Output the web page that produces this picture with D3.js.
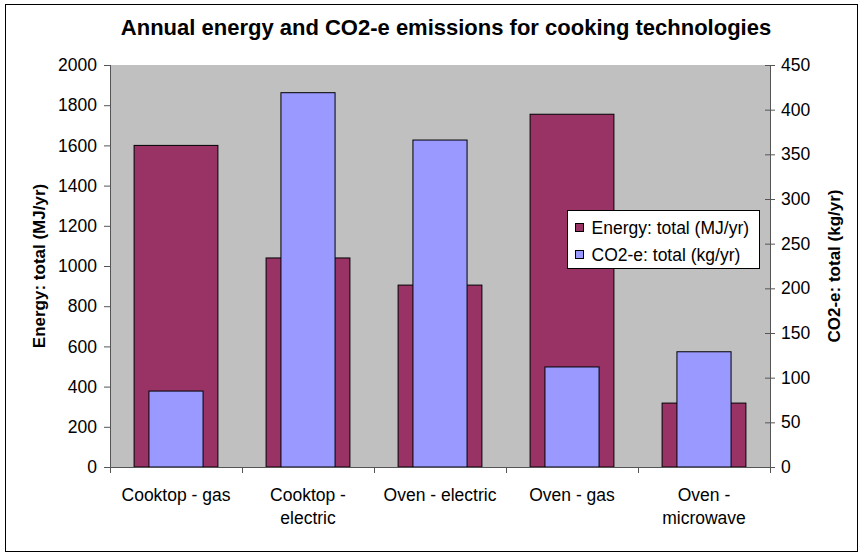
<!DOCTYPE html>
<html>
<head>
<meta charset="utf-8">
<script src="https://cdn.jsdelivr.net/npm/d3@7"></script>
<style>
  body { margin: 0; background: #fff; }
  svg { font-family: "Liberation Sans", Arial, sans-serif; }
</style>
</head>
<body>
<svg width="864" height="557"></svg>
<script>
const categories = ["Cooktop - gas", "Cooktop - electric", "Oven - electric", "Oven - gas", "Oven - microwave"];
const categoryLines = [["Cooktop - gas"], ["Cooktop -", "electric"], ["Oven - electric"], ["Oven - gas"], ["Oven -", "microwave"]];
const energy = [1600, 1040, 905, 1755, 318];
const co2 = [85, 419, 366, 112, 129];
const energyTicks = [0, 200, 400, 600, 800, 1000, 1200, 1400, 1600, 1800, 2000];
const co2Ticks = [0, 50, 100, 150, 200, 250, 300, 350, 400, 450];

const margin = { top: 65, right: 94, bottom: 90, left: 110 };
const width = 864 - margin.left - margin.right;
const plotH = 402;
const fontSize = "17.5px";

const svg = d3.select("svg");

// outer chart border
svg.append("rect")
    .attr("x", 5.5).attr("y", 4.5)
    .attr("width", 852).attr("height", 547)
    .attr("fill", "#fff")
    .attr("stroke", "#000")
    .attr("stroke-width", 1);

const g = svg.append("g")
    .attr("transform", "translate(" + margin.left + "," + margin.top + ")");

const xScale = d3.scaleBand().domain(categories).range([0, width]);
const yScale = d3.scaleLinear().domain([0, 2000]).range([plotH, 0]);
const yScale2 = d3.scaleLinear().domain([0, 450]).range([plotH, 0]);

g.append("rect")
    .attr("width", width).attr("height", plotH)
    .attr("fill", "#C0C0C0");

const bw = xScale.bandwidth();
const energyW = bw * 0.635;
const co2W = bw * 0.41;

g.selectAll(".energy")
    .data(energy)
    .enter().append("rect")
    .attr("class", "energy")
    .attr("x", (d, i) => xScale(categories[i]) + (bw - energyW) / 2)
    .attr("y", d => yScale(d))
    .attr("width", energyW)
    .attr("height", d => plotH - yScale(d))
    .attr("fill", "#993366")
    .attr("stroke", "#000")
    .attr("stroke-width", 1);

g.selectAll(".co2")
    .data(co2)
    .enter().append("rect")
    .attr("class", "co2")
    .attr("x", (d, i) => xScale(categories[i]) + (bw - co2W) / 2)
    .attr("y", d => yScale2(d))
    .attr("width", co2W)
    .attr("height", d => plotH - yScale2(d))
    .attr("fill", "#9999FF")
    .attr("stroke", "#000")
    .attr("stroke-width", 1);

// left axis
const yAxis = d3.axisLeft(yScale).tickValues(energyTicks).tickFormat(d3.format("d")).tickSize(6).tickPadding(7);
const ya = g.append("g").call(yAxis);
ya.select(".domain").attr("stroke", "#555").attr("d", "M0.5,0V" + plotH);
ya.selectAll("line").attr("stroke", "#555");
ya.selectAll("text").attr("font-size", fontSize).attr("fill", "#000")
    .attr("font-family", "Liberation Sans, Arial, sans-serif");

// right axis
const yAxis2 = d3.axisRight(yScale2).tickValues(co2Ticks).tickFormat(d3.format("d")).tickSize(5).tickPadding(6);
const ya2 = g.append("g").attr("transform", "translate(" + width + ",0)").call(yAxis2);
ya2.select(".domain").attr("stroke", "#555").attr("d", "M0.5,0V" + plotH);
ya2.selectAll("line").attr("stroke", "#555").attr("x1", -5);
ya2.selectAll("text").attr("font-size", fontSize).attr("fill", "#000")
    .attr("font-family", "Liberation Sans, Arial, sans-serif");

// x axis
g.append("line")
    .attr("x1", 0).attr("x2", width)
    .attr("y1", plotH + 0.5).attr("y2", plotH + 0.5)
    .attr("stroke", "#555");
const boundaries = d3.range(categories.length + 1).map(i => i * bw);
g.selectAll(".xtick")
    .data(boundaries)
    .enter().append("line")
    .attr("x1", d => Math.round(d) + 0.5).attr("x2", d => Math.round(d) + 0.5)
    .attr("y1", plotH).attr("y2", plotH + 6)
    .attr("stroke", "#555");

const xl = g.selectAll(".xlabel")
    .data(categories)
    .enter().append("text")
    .attr("class", "xlabel")
    .attr("text-anchor", "middle")
    .attr("font-size", fontSize)
    .attr("x", d => xScale(d) + bw / 2)
    .attr("y", plotH + 34);
xl.selectAll("tspan")
    .data((d, i) => categoryLines[i])
    .enter().append("tspan")
    .attr("x", function() { return this.parentNode.getAttribute("x"); })
    .attr("dy", (d, i) => i === 0 ? 0 : 23)
    .text(d => d);

// title
svg.append("text")
    .attr("x", 446).attr("y", 35)
    .attr("text-anchor", "middle")
    .attr("font-size", "22px")
    .attr("font-weight", "bold")
    .text("Annual energy and CO2-e emissions for cooking technologies");

// axis titles
svg.append("text")
    .attr("text-anchor", "middle")
    .attr("font-size", "17px")
    .attr("font-weight", "bold")
    .attr("transform", "translate(45," + (margin.top + plotH / 2) + ") rotate(-90)")
    .text("Energy: total  (MJ/yr)");

svg.append("text")
    .attr("text-anchor", "middle")
    .attr("font-size", "17px")
    .attr("font-weight", "bold")
    .attr("transform", "translate(840," + (margin.top + plotH / 2) + ") rotate(-90)")
    .text("CO2-e: total  (kg/yr)");

// legend
const legend = svg.append("g").attr("transform", "translate(567.5,210.5)");
legend.append("rect")
    .attr("width", 192).attr("height", 58)
    .attr("fill", "#fff").attr("stroke", "#000");
const legendItems = [
    { label: "Energy: total (MJ/yr)", color: "#993366" },
    { label: "CO2-e: total (kg/yr)", color: "#9999FF" }
];
const li = legend.selectAll(".legend-item")
    .data(legendItems)
    .enter().append("g")
    .attr("transform", (d, i) => "translate(0," + (17 + i * 27) + ")");
li.append("rect")
    .attr("x", 8).attr("y", -4)
    .attr("width", 8).attr("height", 8)
    .attr("fill", d => d.color).attr("stroke", "#000");
li.append("text")
    .attr("x", 24).attr("y", 6)
    .attr("font-size", fontSize)
    .text(d => d.label);
</script>
</body>
</html>
